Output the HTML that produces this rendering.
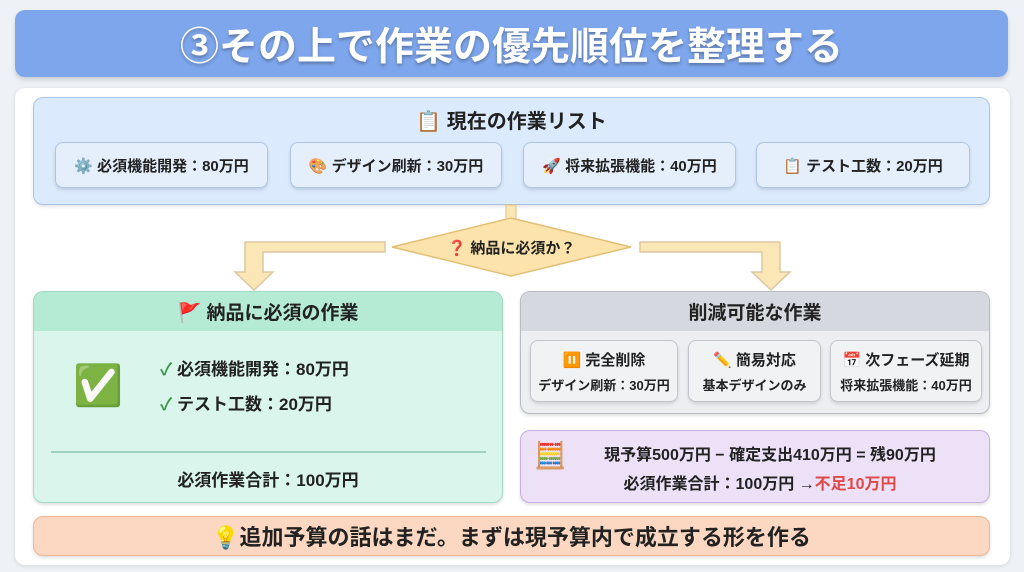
<!DOCTYPE html>
<html><head><meta charset="utf-8"><style>
*{box-sizing:border-box;margin:0;padding:0}
body{width:1024px;height:572px;background:#eef2f7;font-family:"Liberation Sans","Noto Sans CJK JP",sans-serif;position:relative;overflow:hidden;color:#222;font-weight:bold}
.a{position:absolute}
.c{display:flex;align-items:center;justify-content:center;white-space:nowrap}
.title{left:15px;top:10px;width:993px;height:67px;background:#7ea6ec;border-radius:10px;box-shadow:0 3px 5px rgba(0,0,0,.15);color:#fff;font-size:39px;text-shadow:0 2px 3px rgba(0,0,0,.3)}
.card{left:15px;top:88px;width:995px;height:477px;background:#fff;border-radius:10px;box-shadow:0 1px 4px rgba(0,0,0,.12)}
.list{left:33px;top:97px;width:957px;height:108px;background:#dbeafd;border:1.5px solid #aac4e8;border-radius:10px;box-shadow:0 2px 3px rgba(0,0,0,.1)}
.item{top:142px;height:46px;background:#e5effc;border:1.5px solid #aec6e6;border-radius:8px;font-size:15px;box-shadow:0 2px 3px rgba(0,0,0,.12)}
.green{left:33px;top:291px;width:470px;height:212px;background:#d9f5ec;border:1.5px solid #a2dbc3;border-radius:10px;overflow:hidden;box-shadow:0 2px 3px rgba(0,0,0,.12)}
.gray{left:520px;top:291px;width:470px;height:123px;background:#eceef1;border:1.5px solid #b7bcc4;border-radius:10px;overflow:hidden;box-shadow:0 2px 3px rgba(0,0,0,.12)}
.sub{top:340px;height:62px;background:#f1f2f4;border:1.5px solid #c2c6cc;border-radius:8px;box-shadow:0 2px 3px rgba(0,0,0,.12);flex-direction:column}
.purple{left:520px;top:430px;width:470px;height:73px;background:#ede1f8;border:1.5px solid #c9aee0;border-radius:10px;box-shadow:0 2px 3px rgba(0,0,0,.12)}
.orange{left:33px;top:516px;width:957px;height:40px;background:#fcd8c2;border:1.5px solid #efb795;border-radius:10px;font-size:22px;box-shadow:0 2px 3px rgba(0,0,0,.12)}
</style></head><body>
<div class="a c title">③その上で作業の優先順位を整理する</div>
<div class="a card"></div>
<div class="a list"></div>
<div class="a c" style="left:33px;top:104px;width:957px;height:30px;font-size:20px">📋 現在の作業リスト</div>
<div class="a c item" style="left:55px;width:213px">⚙️ 必須機能開発：80万円</div>
<div class="a c item" style="left:290px;width:212px">🎨 デザイン刷新：30万円</div>
<div class="a c item" style="left:523px;width:213px">🚀 将来拡張機能：40万円</div>
<div class="a c item" style="left:756px;width:214px">📋 テスト工数：20万円</div>
<svg class="a" style="left:0;top:0" width="1024" height="572">
<rect x="506" y="205" width="10" height="14" fill="#fbe6b6" stroke="#e3c07e"/>
<polygon points="511,218 631,247 511,276 392,247" fill="#fbe3ab" stroke="#e3bf78" stroke-width="1.5"/>
<path d="M385,242 H245 V272 H235 L254,290 L273,272 H263 V252 H385 Z" fill="#fbe6b6" stroke="#dcc7a0" stroke-width="1.5"/>
<path d="M640,242 H780 V272 H790 L771,290 L752,272 H762 V252 H640 Z" fill="#fbe6b6" stroke="#dcc7a0" stroke-width="1.5"/>
</svg>
<div class="a c" style="left:392px;top:233px;width:239px;height:28px;font-size:15px">❓ 納品に必須か？</div>
<div class="a green"><div style="height:39px;background:#b5ead5"></div></div>
<div class="a c" style="left:33px;top:291px;width:470px;height:40px;font-size:19px">🚩 納品に必須の作業</div>
<div class="a c" style="left:72px;top:360px;width:52px;height:50px;font-size:40px;color:#5a9e3c">✅</div>
<div class="a" style="left:160px;top:352px;font-size:17px;line-height:35px"><span style="color:#3a9a4a">✓</span> 必須機能開発：80万円<br><span style="color:#3a9a4a">✓</span> テスト工数：20万円</div>
<div class="a" style="left:51px;top:451px;width:435px;height:1.5px;background:#9fd3bf"></div>
<div class="a c" style="left:33px;top:464px;width:470px;height:28px;font-size:17px">必須作業合計：100万円</div>
<div class="a gray"><div style="height:39px;background:#d5d8de"></div></div>
<div class="a c" style="left:520px;top:291px;width:470px;height:40px;font-size:19px">削減可能な作業</div>
<div class="a c sub" style="left:530px;width:148px"><div style="font-size:15px">⏸️ 完全削除</div><div style="font-size:13px;margin-top:5px">デザイン刷新：30万円</div></div>
<div class="a c sub" style="left:688px;width:133px"><div style="font-size:15px">✏️ 簡易対応</div><div style="font-size:13px;margin-top:5px">基本デザインのみ</div></div>
<div class="a c sub" style="left:830px;width:152px"><div style="font-size:15px">📅 次フェーズ延期</div><div style="font-size:13px;margin-top:5px">将来拡張機能：40万円</div></div>
<div class="a purple"></div>
<div class="a" style="left:534px;top:440px;font-size:26px">🧮</div>
<div class="a c" style="left:560px;top:441px;width:420px;height:24px;font-size:16px">現予算500万円 − 確定支出410万円 = 残90万円</div>
<div class="a c" style="left:560px;top:470px;width:400px;height:24px;font-size:16px">必須作業合計：100万円 → <span style="color:#e04848">不足10万円</span></div>
<div class="a c orange">💡追加予算の話はまだ。まずは現予算内で成立する形を作る</div>
</body></html>
